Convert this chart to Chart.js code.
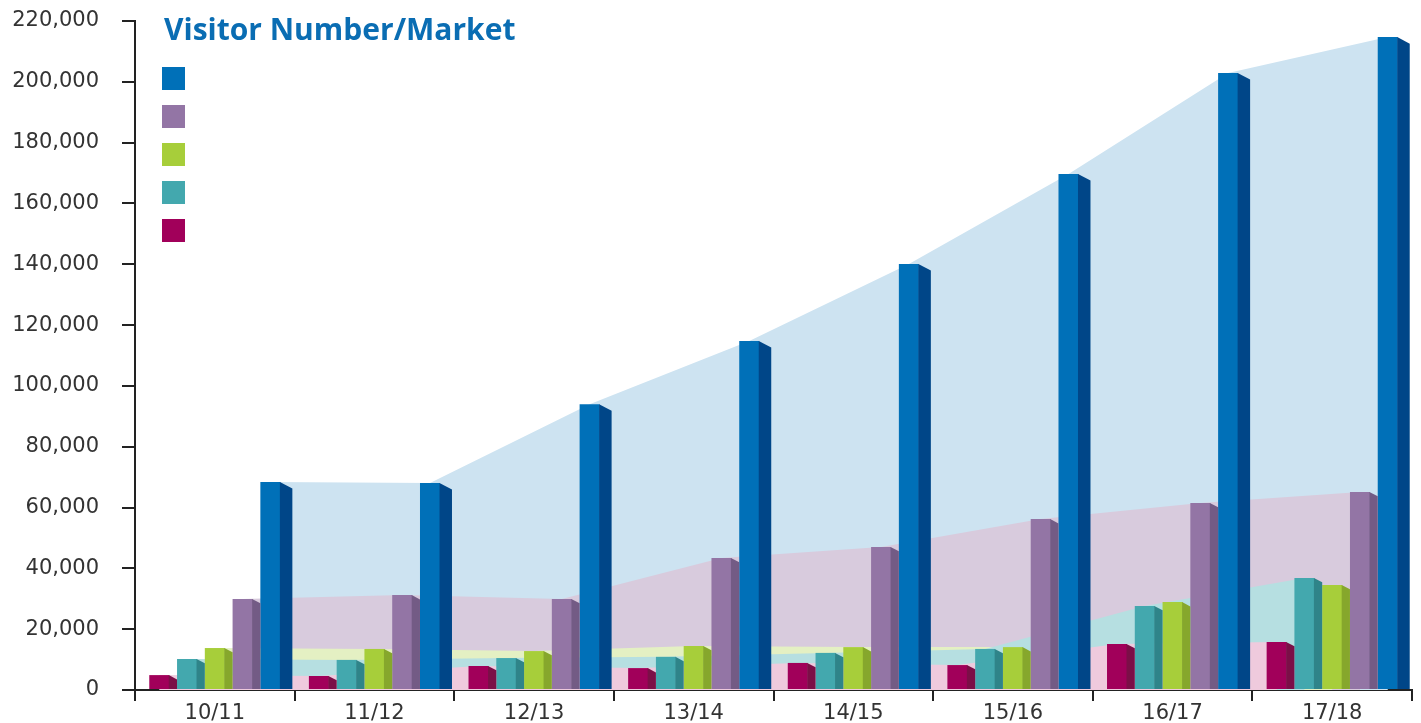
<!DOCTYPE html>
<html>
<head>
<meta charset="utf-8">
<script src="https://cdn.jsdelivr.net/npm/chart.js@4"></script>
<style>
  html, body { margin: 0; padding: 0; background: #fff; }
  #wrap { width: 1421px; height: 723px; }
</style>
</head>
<body>
<div id="wrap"><canvas id="marketChart" width="1421" height="723"></canvas></div>
<script>
// season labels on the x axis
const seasons = ['10/11', '11/12', '12/13', '13/14', '14/15', '15/16', '16/17', '17/18'];

// visitor numbers per market, left to right inside each group
const market_magenta = [4900, 4600, 7900, 7200, 8900, 8200, 15100, 15800];
const market_teal = [10200, 9900, 10500, 10900, 12200, 13500, 27600, 36800];
const market_green = [13800, 13500, 12800, 14500, 14100, 14100, 28900, 34500];
const market_purple = [29900, 31200, 29900, 43400, 47000, 56200, 61500, 65100];
const market_blue = [68400, 68100, 94000, 114800, 140100, 169700, 202900, 214700];

const yTicks = [0, 20000, 40000, 60000, 80000, 100000, 120000, 140000, 160000, 180000, 200000, 220000];

const chartTitle = 'Visitor Number/Market';

// front colour, side colour, background band colour
const markets = [
  { data: market_magenta, front: '#a1005a', side: '#7b0f47', band: '#efcadd' },
  { data: market_teal,    front: '#43a8ae', side: '#2f8489', band: '#b6dfe1' },
  { data: market_green,   front: '#a7ce3a', side: '#86a72c', band: '#e4f0c3' },
  { data: market_purple,  front: '#9375a5', side: '#735b85', band: '#d8cbdd' },
  { data: market_blue,    front: '#0070b8', side: '#004688', band: '#cde3f1' }
];

const catPct = 0.87;
const barPct = 0.72;
const tickFont = { family: '"DejaVu Sans"', size: 21 };

const barSets = markets.map(m => ({
  data: m.data,
  backgroundColor: m.front,
  borderWidth: 0,
  barPercentage: barPct,
  categoryPercentage: catPct,
  sideColor: m.side,
  bandColor: m.band
}));

// light bands behind the bars joining the tops of each market's bars
const bands = {
  id: 'bands',
  beforeDatasetsDraw(chart) {
    const ctx = chart.ctx;
    const base = chart.scales.y.getPixelForValue(0);
    ctx.save();
    for (let k = chart.data.datasets.length - 1; k >= 0; k--) {
      const pts = chart.getDatasetMeta(k).data;
      ctx.fillStyle = chart.data.datasets[k].bandColor;
      ctx.beginPath();
      ctx.moveTo(pts[0].x, base);
      pts.forEach(p => ctx.lineTo(p.x, p.y));
      ctx.lineTo(pts[pts.length - 1].x, base);
      ctx.closePath();
      ctx.fill();
    }
    ctx.restore();
  }
};

// 3D side face of each bar
const sideFaces = {
  id: 'sideFaces',
  afterDatasetDraw(chart, args) {
    const meta = args.meta;
    const ds = chart.data.datasets[args.index];
    const last = args.index === chart.data.datasets.length - 1;
    const ctx = chart.ctx;
    ctx.save();
    ctx.fillStyle = ds.sideColor;
    meta.data.forEach(bar => {
      const p = bar.getProps(['x', 'y', 'base', 'width'], true);
      const right = p.x + p.width / 2;
      const pitch = p.width / barPct;
      const w = last ? 12 : pitch - p.width;
      const drop = w * 0.55;
      ctx.beginPath();
      ctx.moveTo(right - 0.5, p.y);
      ctx.lineTo(right + w, p.y + drop);
      ctx.lineTo(right + w, p.base);
      ctx.lineTo(right - 0.5, p.base);
      ctx.closePath();
      ctx.fill();
    });
    ctx.restore();
  }
};

// title and colour keys inside the plot, top left
const keyBlock = {
  id: 'keyBlock',
  afterDraw(chart) {
    const ctx = chart.ctx;
    const left = chart.chartArea.left;
    ctx.save();
    ctx.fillStyle = '#0a6db3';
    ctx.font = 'bold 30px "Open Sans"';
    ctx.textBaseline = 'middle';
    ctx.textAlign = 'left';
    ctx.fillText(chartTitle, left + 29, 31);
    const order = [4, 3, 2, 1, 0];
    order.forEach((k, row) => {
      ctx.fillStyle = markets[k].front;
      ctx.fillRect(left + 27, 67 + row * 38, 23, 23);
    });
    ctx.restore();
  }
};

new Chart(document.getElementById('marketChart'), {
  type: 'bar',
  data: {
    labels: seasons,
    datasets: barSets
  },
  options: {
    responsive: false,
    animation: false,
    layout: { padding: { left: 0, right: 9, top: 21, bottom: 0 } },
    plugins: {
      legend: { display: false },
      tooltip: { enabled: false },
      title: { display: false }
    },
    scales: {
      x: {
        offset: true,
        grid: {
          offset: true,
          drawOnChartArea: false,
          tickLength: 11,
          color: '#222',
          lineWidth: 2
        },
        border: { display: true, color: '#222', width: 2 },
        ticks: {
          color: '#333',
          padding: 0,
          font: tickFont
        },
        afterFit(scale) { scale.height = 33; }
      },
      y: {
        min: 0,
        max: 220000,
        afterBuildTicks(scale) { scale.ticks = yTicks.map(v => ({ value: v })); },
        grid: {
          drawOnChartArea: false,
          tickLength: 13,
          color: '#222',
          lineWidth: 2
        },
        border: { display: true, color: '#222', width: 2 },
        ticks: {
          color: '#333',
          padding: 23,
          font: tickFont,
          callback: v => v.toLocaleString('en-US')
        },
        afterFit(scale) {
          scale.width = 135;
          scale.paddingTop = 0;
          scale.paddingBottom = 0;
        }
      }
    }
  },
  plugins: [bands, sideFaces, keyBlock]
});
</script>
</body>
</html>
